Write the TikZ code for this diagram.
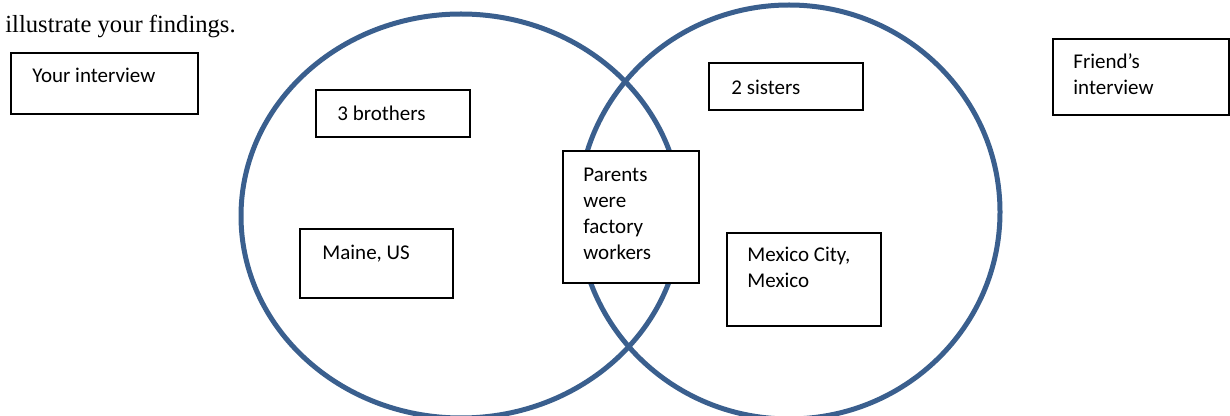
\documentclass[tikz,border=0pt]{standalone}
\usepackage{fontspec}
\setmainfont{Liberation Serif}
\newfontfamily\boxfont{Carlito}
\usetikzlibrary{fit}
\definecolor{vennblue}{HTML}{3A5F8E}
\tikzset{
  venn/.style={draw=vennblue, line width=2.5pt},
  box/.style={draw=black, line width=0.9pt, fill=white, inner sep=0pt},
  lbl/.style={anchor=base west, inner sep=0pt, align=left,
    font=\boxfont\fontsize{10.5}{13}\selectfont},
}
\begin{document}
\begin{tikzpicture}[x=0.5pt, y=-0.5pt]
\useasboundingbox (0,0) rectangle (1230,416);
% top text
\node[anchor=base west, inner sep=0pt, font=\fontsize{12.3}{14}\selectfont] (intro) at (5,33) {illustrate your findings.};
% circles
\draw[venn] (461,216) ellipse [x radius=220, y radius=202];
\draw[venn] (789,212) ellipse [x radius=211, y radius=207];
% boxes (multi-line labels are placed by the baseline of their last line)
\node[box, fit={(11,53) (198,114)}] (yours) {};
\node[lbl] (yourst) at (32,83) {Your interview};
\node[box, fit={(1053,39) (1229,115)}] (friend) {};
\node[lbl] (friendt) at (1073,95) {Friend’s\\interview};
\node[box, fit={(316,90) (470,137)}] (bro) {};
\node[lbl] (brot) at (337,121) {3 brothers};
\node[box, fit={(300,229) (453,298)}] (maine) {};
\node[lbl] (mainet) at (322,260) {Maine, US};
\node[box, fit={(563,151) (699,283)}] (par) {};
\node[lbl] (part) at (583,260) {Parents\\were\\factory\\workers};
\node[box, fit={(709,63) (863,110)}] (sis) {};
\node[lbl] (sist) at (731,95) {2 sisters};
\node[box, fit={(727,233) (881,326)}] (mex) {};
\node[lbl] (mext) at (747,288) {Mexico City,\\Mexico};
\end{tikzpicture}
\end{document}
